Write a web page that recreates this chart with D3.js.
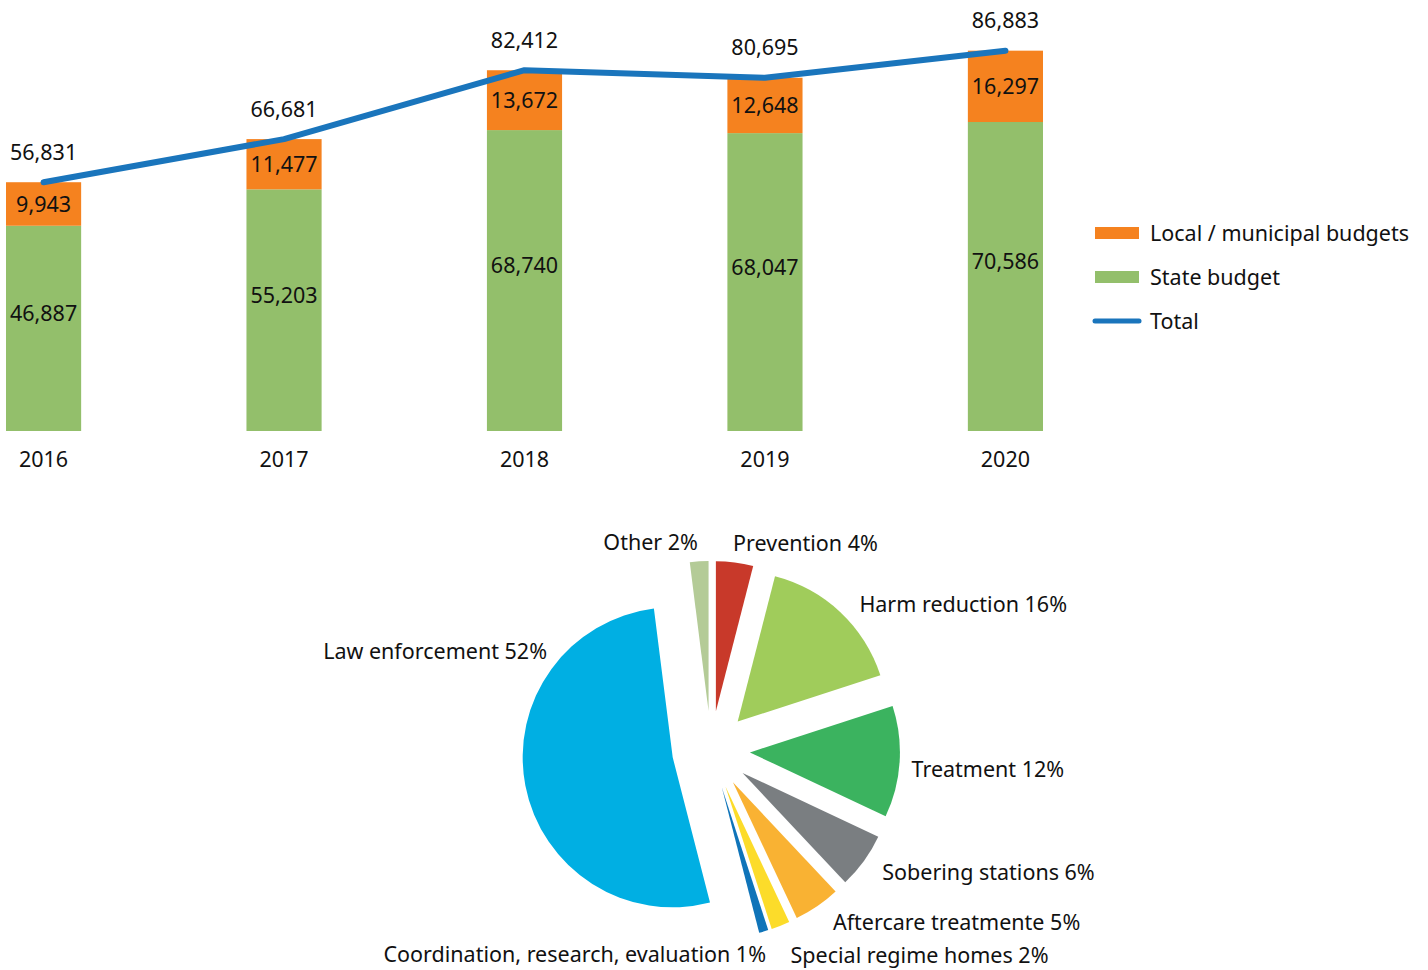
<!DOCTYPE html>
<meta charset="utf-8">
<html>
<head>
<script src="https://d3js.org/d3.v7.min.js"></script>
<style>
  body { margin: 0; background: #fff; }
  text { font-family: "Noto Sans", sans-serif; fill: #111; font-size: 21.5px; }
</style>
</head>
<body>
<div id="chart"></div>
<script>
// bar + line data
var years = ["2016", "2017", "2018", "2019", "2020"];
var stateBudget = [46887, 55203, 68740, 68047, 70586];
var localBudget = [9943, 11477, 13672, 12648, 16297];
var totals = [56831, 66681, 82412, 80695, 86883];

// pie data
var areas = ["Prevention", "Harm reduction", "Treatment", "Sobering stations",
  "Aftercare treatmente", "Special regime homes", "Coordination, research, evaluation",
  "Law enforcement", "Other"];
var shares = [4, 16, 12, 6, 5, 2, 1, 52, 2];

var colLocal = "#f5821f", colState = "#93bf6b", colTotal = "#1a75bc";
var pieColors = ["#c8392a", "#a0cc5b", "#3bb35f", "#7a7e81", "#f9b233",
  "#fcdc2a", "#0f74b9", "#00afe3", "#b4cb97"];

var width = 1428, height = 970;
var svg = d3.select("#chart").append("svg")
  .attr("width", width)
  .attr("height", height);

var fmt = d3.format(",");

// ---------- bar chart ----------
var x = d3.scaleBand()
  .domain(years)
  .range([6, 1043])
  .paddingInner(0.6875)
  .paddingOuter(0);

var y = d3.scaleLinear()
  .domain([0, 98000])
  .range([431, 2]);

var barG = svg.append("g");

barG.selectAll(".state")
  .data(years)
  .enter().append("rect")
  .attr("class", "state")
  .attr("x", function(d) { return x(d); })
  .attr("width", x.bandwidth())
  .attr("y", function(d, i) { return y(stateBudget[i]); })
  .attr("height", function(d, i) { return y(0) - y(stateBudget[i]); })
  .attr("fill", colState);

barG.selectAll(".local")
  .data(years)
  .enter().append("rect")
  .attr("class", "local")
  .attr("x", function(d) { return x(d); })
  .attr("width", x.bandwidth())
  .attr("y", function(d, i) { return y(stateBudget[i] + localBudget[i]); })
  .attr("height", function(d, i) { return y(stateBudget[i]) - y(stateBudget[i] + localBudget[i]); })
  .attr("fill", colLocal);

var cx = function(d) { return x(d) + x.bandwidth() / 2; };

var line = d3.line()
  .x(function(d, i) { return cx(years[i]); })
  .y(function(d) { return y(d); });

barG.append("path")
  .datum(totals)
  .attr("d", line)
  .attr("fill", "none")
  .attr("stroke", colTotal)
  .attr("stroke-width", 6)
  .attr("stroke-linecap", "round")
  .attr("stroke-linejoin", "round");

// value labels
barG.selectAll(".lblState")
  .data(years)
  .enter().append("text")
  .attr("x", cx)
  .attr("y", function(d, i) { return (y(0) + y(stateBudget[i])) / 2 - 15; })
  .attr("dy", "0.35em")
  .attr("text-anchor", "middle")
  .text(function(d, i) { return fmt(stateBudget[i]); });

barG.selectAll(".lblLocal")
  .data(years)
  .enter().append("text")
  .attr("x", cx)
  .attr("y", function(d, i) { return (y(stateBudget[i]) + y(stateBudget[i] + localBudget[i])) / 2; })
  .attr("dy", "0.35em")
  .attr("text-anchor", "middle")
  .text(function(d, i) { return fmt(localBudget[i]); });

barG.selectAll(".lblTotal")
  .data(years)
  .enter().append("text")
  .attr("x", cx)
  .attr("y", function(d, i) { return y(totals[i]) - 30; })
  .attr("dy", "0.35em")
  .attr("text-anchor", "middle")
  .text(function(d, i) { return fmt(totals[i]); });

// year axis labels
barG.selectAll(".yr")
  .data(years)
  .enter().append("text")
  .attr("x", cx)
  .attr("y", 459)
  .attr("dy", "0.35em")
  .attr("text-anchor", "middle")
  .text(function(d) { return d; });

// legend
var legend = svg.append("g").attr("transform", "translate(1095,233)");
legend.append("rect").attr("x", 0).attr("y", -6).attr("width", 44).attr("height", 12).attr("fill", colLocal);
legend.append("text").attr("x", 55).attr("y", 0).attr("dy", "0.35em").text("Local / municipal budgets");
legend.append("rect").attr("x", 0).attr("y", 38).attr("width", 44).attr("height", 12).attr("fill", colState);
legend.append("text").attr("x", 55).attr("y", 44).attr("dy", "0.35em").text("State budget");
legend.append("line").attr("x1", 0).attr("x2", 44).attr("y1", 88).attr("y2", 88)
  .attr("stroke", colTotal).attr("stroke-width", 5).attr("stroke-linecap", "round");
legend.append("text").attr("x", 55).attr("y", 88).attr("dy", "0.35em").text("Total");

// ---------- exploded pie ----------
var radius = 150, explode = 39, labelR = 208;
// small manual nudges for label placement [dx, dy, anchor]
var labelNudge = [
  [-4, 0, "start"], [6, 6, "start"], [-7, 6, "start"], [3, 0, "start"],
  [5, 0, "start"], [3, 12, "start"], [-3, 5, "end"], [0, 0, "end"], [0, 0, "end"]
];

var pie = d3.pie().sort(null).value(function(d) { return d; });
var arcs = pie(shares);
var arc = d3.arc().innerRadius(0).outerRadius(radius);
var shiftArc = d3.arc().innerRadius(explode).outerRadius(explode);
var labelArc = d3.arc().innerRadius(labelR).outerRadius(labelR);

var pieG = svg.append("g").attr("transform", "translate(711,750)");

pieG.selectAll(".slice")
  .data(arcs)
  .enter().append("path")
  .attr("class", "slice")
  .attr("transform", function(d) { return "translate(" + shiftArc.centroid(d) + ")"; })
  .attr("d", arc)
  .attr("fill", function(d, i) { return pieColors[i]; });

pieG.selectAll(".plbl")
  .data(arcs)
  .enter().append("text")
  .attr("class", "plbl")
  .attr("x", function(d, i) {
    if (i === 7) return -164;   // law enforcement label sits up-left
    return labelArc.centroid(d)[0] + labelNudge[i][0];
  })
  .attr("y", function(d, i) {
    if (i === 7) return -99;
    return labelArc.centroid(d)[1] + labelNudge[i][1];
  })
  .attr("dy", "0.35em")
  .attr("text-anchor", function(d, i) { return labelNudge[i][2]; })
  .text(function(d, i) { return areas[i] + " " + shares[i] + "%"; });
</script>
</body>
</html>
